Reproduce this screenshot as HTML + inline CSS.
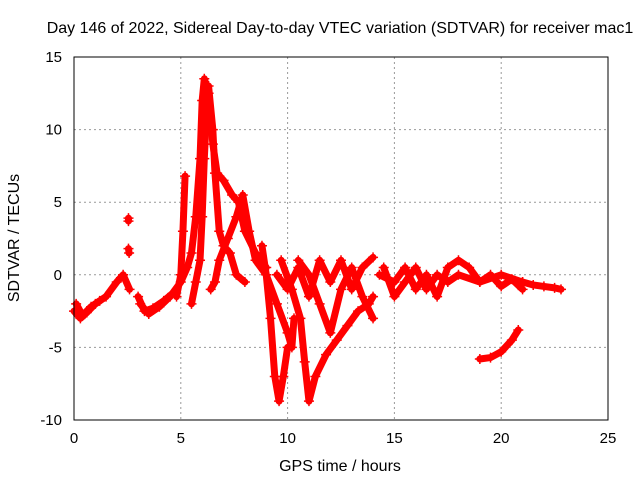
<!DOCTYPE html>
<html><head><meta charset="utf-8"><style>
body{margin:0;background:#fff}
svg{display:block;font-family:"Liberation Sans",sans-serif;font-size:15px}
</style></head><body>
<svg id="chart" width="640" height="480">
<text x="340" y="33" text-anchor="middle" font-size="16">Day 146 of 2022, Sidereal Day-to-day VTEC variation (SDTVAR) for receiver mac1</text>
<text x="340" y="471" text-anchor="middle" font-size="16">GPS time / hours</text>
<text x="19" y="238" text-anchor="middle" font-size="16" transform="rotate(-90 19 238)">SDTVAR / TECUs</text>
<g id="grid"></g><g id="marks"></g>
<rect x="74" y="57" width="534" height="363" fill="none" stroke="#000"/>
</svg>
<script>
const xTicks=[0,5,10,15,20,25];
const yTicks=[-10,-5,0,5,10,15];
const tracks=[
[[0,-2.5],[0.3,-3],[0.6,-2.6],[1,-2],[1.5,-1.5],[2,-0.5],[2.3,0],[2.6,-1]],
[[0.1,-2],[0.4,-2.8],[0.8,-2.2],[1.2,-1.8]],
[[2.55,3.9],[2.55,3.7]],[[2.55,1.8],[2.58,1.5]],
[[3,-1.5],[3.3,-2.5],[3.7,-2.3],[4.2,-1.8],[4.6,-1.3],[5,-0.5],[5.3,0.5],[5.5,1.5],[5.7,4],[5.9,8],[6.0,12],[6.1,13.5],[6.3,12.5],[6.5,9],[6.7,7],[7,6.5],[7.4,5.5],[7.7,5],[8,3],[8.5,1.5],[9,0.5]],
[[3.1,-2],[3.5,-2.7],[4,-2.2],[4.5,-1.5]],
[[4.8,-1.5],[5.0,0],[5.1,3],[5.2,6.8]],
[[5.5,-2],[5.7,-0.5],[5.9,1],[6.0,4],[6.1,8],[6.2,11],[6.3,13],[6.5,10],[6.6,7],[6.8,3],[7.0,2],[7.3,1.5],[7.6,0],[8.0,-0.5]],
[[6.4,-1],[6.6,-0.5],[6.8,1],[7.2,2.5],[7.6,4],[7.9,5.5],[8.2,3],[8.5,1],[9,0],[9.5,-2],[10,-4],[10.2,-5],[10.3,-3]],
[[8.8,2],[9,0],[9.2,-3],[9.4,-7],[9.6,-8.7],[9.8,-7],[10,-5]],
[[9.7,1],[10.2,-1],[10.6,-3],[10.8,-6],[11,-8.7],[11.3,-7],[11.8,-5.5],[12.3,-4.5],[12.8,-3.5],[13.3,-2.5],[13.8,-2],[14,-1.5]],
[[9.5,0],[10,-1],[10.5,0.5],[11,-1.5],[11.5,1],[12,-0.5],[12.5,1],[13,-1],[13.5,0.5],[14,1.2]],
[[10.5,1],[11,0],[11.5,-2],[12,-4],[12.5,-1],[13,0.5],[13.5,-1.5],[14,-3]],
[[14.3,0],[15,-0.5],[15.5,0.5],[16,-1],[16.5,0],[17,-1.5],[17.5,0.5],[18,1],[18.5,0.5],[19,-0.5],[19.5,0],[20,-0.8],[20.5,-0.3],[21,-1]],
[[14.5,0.5],[15,-1.5],[15.5,-0.5],[16,0.5],[16.5,-1],[17,0],[17.5,-0.5],[18,0],[19,-0.5],[20,0],[21,-0.5]],
[[21,-0.5],[21.5,-0.7],[22,-0.8],[22.5,-0.9],[22.8,-1]],
[[19,-5.8],[19.5,-5.7],[20,-5.3],[20.5,-4.5],[20.8,-3.8]]
];
const X=t=>74+t/25*534, Y=v=>57+(15-v)/25*363;
const NS='http://www.w3.org/2000/svg';
const grid=document.getElementById('grid'), marks=document.getElementById('marks');
function mk(tag,attrs,parent){const e=document.createElementNS(NS,tag);for(const k in attrs)e.setAttribute(k,attrs[k]);parent.appendChild(e);return e;}
xTicks.forEach(t=>{
 if(t>0&&t<25){const l=mk('line',{x1:X(t),x2:X(t),y1:57,y2:420,stroke:'#999','stroke-dasharray':'2,3'},grid);
 
 }
 const tx=mk('text',{x:X(t),y:443,'text-anchor':'middle'},grid);tx.textContent=t;
 
 
});
yTicks.forEach(v=>{
 if(v>-10&&v<15){const l=mk('line',{x1:74,x2:608,y1:Y(v),y2:Y(v),stroke:'#999','stroke-dasharray':'2,3'},grid);
 
 }
 const tx=mk('text',{x:62,y:Y(v)+5,'text-anchor':'end'},grid);tx.textContent=v;
 
 
});
tracks.forEach(tr=>{
 const p=mk('polyline',{points:tr.map(d=>X(d[0])+','+Y(d[1])).join(' '),fill:'none',stroke:'#f00','stroke-width':7,'stroke-linejoin':'round','stroke-linecap':'round'},marks);
 
 
 tr.forEach(d=>{
  const m=mk('path',{d:`M${X(d[0])-5},${Y(d[1])}h10M${X(d[0])},${Y(d[1])-5}v10`,stroke:'#f00','stroke-width':1.5},marks);
  
  
 });
});
</script>
</body></html>
